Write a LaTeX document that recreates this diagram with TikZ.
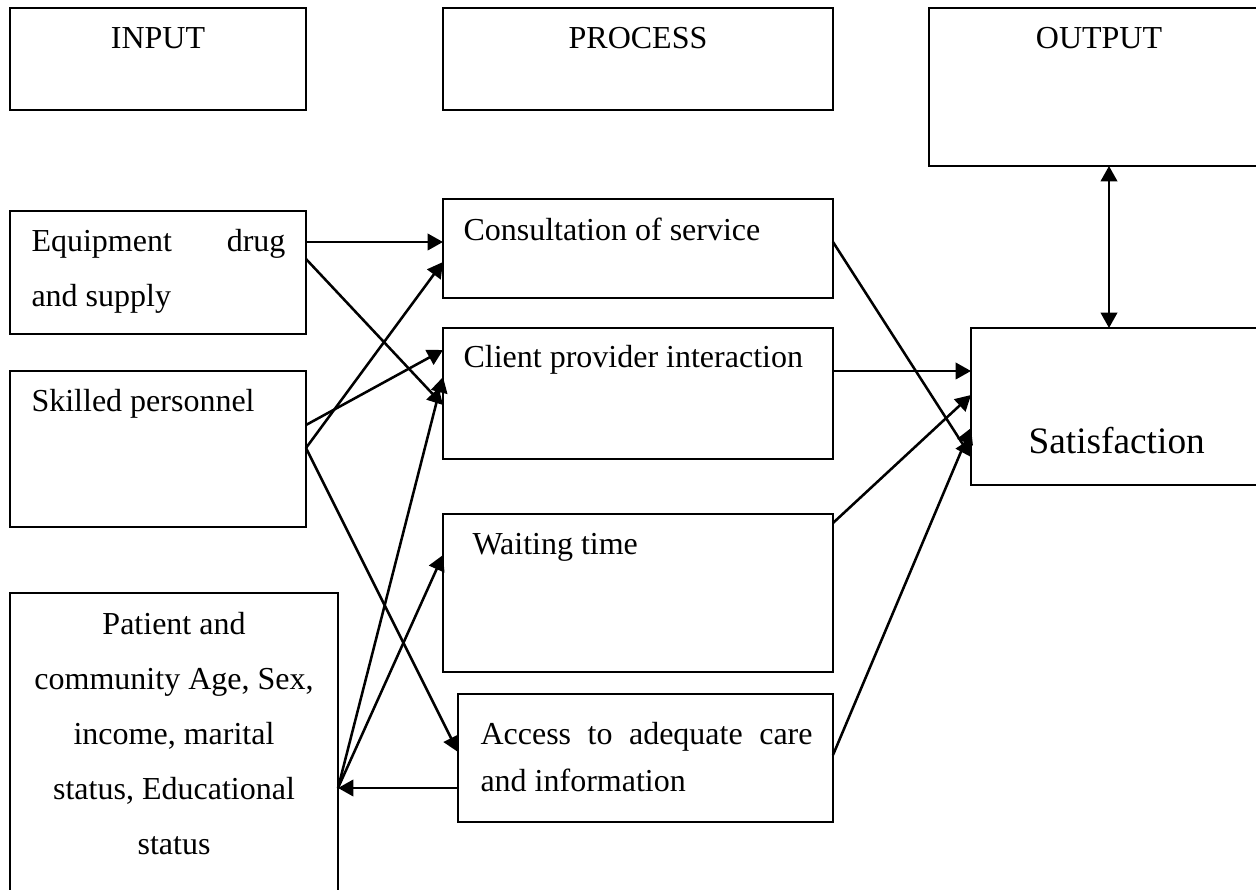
\documentclass[tikz,border=0pt]{standalone}
\usepackage{fontspec}
\setmainfont{Liberation Serif}
\usetikzlibrary{arrows.meta,fit,calc}
\begin{document}
\begin{tikzpicture}[x=0.375pt,y=-0.375pt,
  box/.style={draw,line width=0.8pt,inner sep=0pt,outer sep=0pt},
  txt/.style={inner sep=0pt,anchor=base west,font=\fontsize{12}{14}\selectfont},
  ctxt/.style={txt,anchor=base},
  arr/.style={line width=0.95pt,-{Triangle[length=5.8pt,width=6.2pt]}},
  darr/.style={line width=0.95pt,{Triangle[length=5.8pt,width=6.2pt]}-{Triangle[length=5.8pt,width=6.2pt]}}]
\useasboundingbox (0,0) rectangle (1256,890);

% boxes
\node[box,fit={(10,8)(306,110)}] (inp) {};
\node[box,fit={(443,8)(833,110)}] (proc) {};
\node[box,fit={(929,8)(1262,166)}] (outp) {};
\node[box,fit={(10,211)(306,334)}] (equip) {};
\node[box,fit={(10,371)(306,527)}] (skill) {};
\node[box,fit={(10,593)(338,900)}] (pat) {};
\node[box,fit={(443,199)(833,298)}] (cons) {};
\node[box,fit={(443,328)(833,459)}] (client) {};
\node[box,fit={(443,514)(833,672)}] (wait) {};
\node[box,fit={(458,694)(833,822)}] (access) {};
\node[box,fit={(971,328)(1262,485)}] (sat) {};

% texts
\node[ctxt] (tinp) at (158,49) {INPUT};
\node[ctxt] (tproc) at (638,49) {PROCESS};
\node[ctxt] (toutp) at (1099,49) {OUTPUT};
\node[txt] (te1) at (31,252) {\makebox[95.2pt][s]{Equipment drug}};
\node[txt] (te2) at (31,307) {and supply};
\node[txt] (ts) at (31,412) {Skilled personnel};
\node[ctxt] (tp1) at (174,634) {Patient and};
\node[ctxt] (tp2) at (174,689) {community Age, Sex,};
\node[ctxt] (tp3) at (174,744) {income, marital};
\node[ctxt] (tp4) at (174,799) {status, Educational};
\node[ctxt] (tp5) at (174,854) {status};
\node[txt] (tc) at (463,241) {Consultation of service};
\node[txt] (tcl) at (463,368) {Client provider interaction};
\node[txt] (tw) at (472,554) {Waiting time};
\node[txt] (ta1) at (480,744) {\makebox[124.5pt][s]{Access to adequate care}};
\node[txt] (ta2) at (480,791) {and information};
\node[txt,font=\fontsize{14}{16}\selectfont] (tsat) at (1028,454) {Satisfaction};

% connectors
\draw[arr] ($(equip.north east)+(0,31)$) -- ($(cons.north west)+(0,43)$);
\draw[arr] ($(equip.north east)+(0,48)$) -- ($(client.north west)+(0,77)$);
\draw[arr] ($(skill.north east)+(0,77)$) -- ($(cons.north west)+(0,63)$);
\draw[arr] ($(skill.north east)+(0,54)$) -- ($(client.north west)+(0,22)$);
\draw[arr] ($(skill.north east)+(0,77)$) -- ($(access.north west)+(0,58)$);
\draw[arr] ($(pat.north east)+(0,195)$) -- ($(client.north west)+(0,49)$);
\draw[arr] ($(pat.north east)+(0,195)$) -- ($(wait.north west)+(0,41)$);
\draw[arr] ($(access.north west)+(0,94)$) -- ($(pat.north east)+(0,195)$);
\draw[arr] ($(cons.north east)+(0,43)$) -- ($(sat.north west)+(0,129)$);
\draw[arr] ($(client.north east)+(0,43)$) -- ($(sat.north west)+(0,43)$);
\draw[arr] ($(wait.north east)+(0,9)$) -- ($(sat.north west)+(0,67)$);
\draw[arr] ($(access.north east)+(0,61)$) -- ($(sat.north west)+(0,100)$);
\draw[darr] ($(outp.south west)+(180,0)$) -- ($(sat.north west)+(138,0)$);
\end{tikzpicture}
\end{document}
